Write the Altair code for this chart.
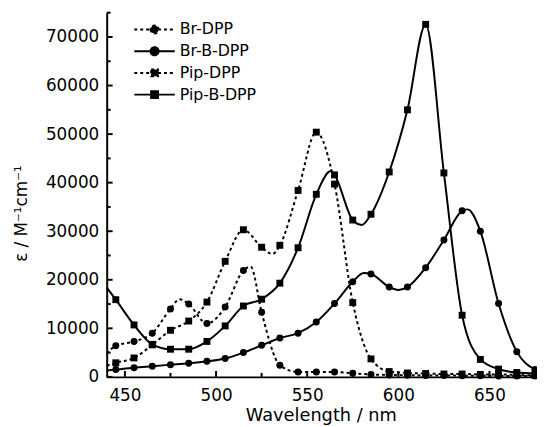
import altair as alt
import pandas as pd

series_names = ["Br-DPP", "Br-B-DPP", "Pip-DPP", "Pip-B-DPP"]
dotted_series = ["Br-DPP", "Pip-DPP"]
circle_series = ["Br-DPP", "Br-B-DPP"]

br_dpp_wl = [440, 445, 455, 465, 475, 480, 485, 495, 505, 515, 519, 525, 535, 545, 555, 565, 575,
             585, 595, 605, 615, 625, 635, 645, 655, 665, 675]
br_dpp_eps = [4800, 6400, 7300, 9000, 14000, 16000, 15000, 11000, 14400, 21900, 22700, 13300, 2400,
              1000, 1000, 1000, 750, 500, 400, 350, 300, 300, 250, 250, 200, 200, 200]

br_b_dpp_wl = [440, 445, 455, 465, 475, 485, 495, 505, 515, 525, 535, 545, 555, 565, 575, 581, 585,
               595, 600, 605, 615, 625, 635, 638, 645, 655, 665, 675]
br_b_dpp_eps = [1300, 1500, 1900, 2200, 2500, 2800, 3200, 3800, 5000, 6500, 8000, 9000, 11300, 15100,
                19600, 21400, 21200, 18500, 17900, 18500, 22500, 28200, 34200, 34500, 30000, 15100,
                5200, 1500]

pip_dpp_wl = [440, 445, 455, 465, 475, 485, 495, 505, 515, 525, 531, 535, 545, 555, 565, 575, 585,
              595, 605, 615, 625, 635, 645, 655, 665, 675]
pip_dpp_eps = [2300, 2900, 3900, 6600, 9600, 11500, 15400, 23800, 30300, 26700, 25300, 27100, 38400,
               50400, 39700, 15300, 3700, 1100, 800, 700, 600, 600, 500, 500, 400, 300]

pip_b_dpp_wl = [440, 445, 455, 465, 475, 485, 495, 505, 515, 525, 535, 545, 555, 563, 565, 575, 580,
                585, 595, 605, 615, 625, 635, 645, 655, 665, 675]
pip_b_dpp_eps = [18400, 15900, 10700, 6700, 5700, 5700, 7300, 10500, 14600, 16000, 19300, 26600,
                 37600, 42400, 41600, 32300, 31300, 33500, 42200, 55000, 72600, 42000, 12700, 3600,
                 1600, 900, 700]

x_ticks_major = [450, 500, 550, 600, 650]
x_ticks_minor = [475, 525, 575, 625, 675]
y_ticks_major = [0, 10000, 20000, 30000, 40000, 50000, 60000, 70000]
y_ticks_minor = [5000, 15000, 25000, 35000, 45000, 55000, 65000, 75000]

rows = []
for name, wls, vals in [("Br-DPP", br_dpp_wl, br_dpp_eps), ("Br-B-DPP", br_b_dpp_wl, br_b_dpp_eps),
                        ("Pip-DPP", pip_dpp_wl, pip_dpp_eps), ("Pip-B-DPP", pip_b_dpp_wl, pip_b_dpp_eps)]:
    for w, v in zip(wls, vals):
        rows.append({"series": name, "wl": w, "eps": v, "marker": (w % 10 == 5),
                     "dotted": name in dotted_series, "circle": name in circle_series})
df = pd.DataFrame(rows)

xscale = alt.Scale(domain=[440, 675], nice=False, zero=False)
yscale = alt.Scale(domain=[0, 75000], nice=False, zero=True)

x_enc = alt.X("wl:Q", scale=xscale,
              axis=alt.Axis(values=x_ticks_major, format="d", title="Wavelength / nm",
                            labelPadding=11, titleY=30, titleBaseline="top", titleFontSize=18))
y_enc = alt.Y("eps:Q", scale=yscale,
              axis=alt.Axis(values=y_ticks_major, format="d", title="ε  / M⁻¹cm⁻¹",
                            labelPadding=8, titleX=-86, titleY=203, titleAngle=270,
                            titleBaseline="middle", titleAlign="center"))

base = alt.Chart(df)

dotted_lines = base.transform_filter(alt.datum.dotted).mark_line(
    color="black", strokeWidth=2, strokeDash=[3, 3], interpolate="monotone"
).encode(x=x_enc, y=y_enc, detail="series:N")

solid_lines = base.transform_filter(~alt.datum.dotted).mark_line(
    color="black", strokeWidth=2, interpolate="monotone"
).encode(x=x_enc, y=y_enc, detail="series:N")

circles = base.transform_filter(alt.datum.marker & alt.datum.circle).mark_point(
    shape="circle", filled=True, color="black", size=50, opacity=1
).encode(x=x_enc, y=y_enc)

squares = base.transform_filter(alt.datum.marker & ~alt.datum.circle).mark_point(
    shape="square", filled=True, color="black", size=49, opacity=1
).encode(x=x_enc, y=y_enc)

legend_paths = [
    "M-1,0H1M-0.2,0A0.2,0.2,0,1,0,0.2,0A0.2,0.2,0,1,0,-0.2,0Z",
    "M-1,0H1M-0.2,0A0.2,0.2,0,1,0,0.2,0A0.2,0.2,0,1,0,-0.2,0Z",
    "M-1,0H1M-0.17,-0.17H0.17V0.17H-0.17Z",
    "M-1,0H1M-0.17,-0.17H0.17V0.17H-0.17Z",
]
legend_dash = [[3, 3], [1, 0], [3, 3], [1, 0]]

leg = alt.Legend(title=None, orient="none", legendX=27, legendY=6, symbolSize=1681,
                 clipHeight=22, labelFont="DejaVu Sans", labelFontSize=16, labelOffset=4,
                 labelColor="black", padding=0, rowPadding=0, symbolStrokeWidth=2,
                 symbolOpacity=1)

legend_layer = base.transform_filter("false").mark_point(
    filled=False, fill="black", stroke="black", strokeWidth=2, opacity=1, fillOpacity=1
).encode(
    x=x_enc, y=y_enc,
    shape=alt.Shape("series:N", scale=alt.Scale(domain=series_names, range=legend_paths), legend=leg),
    strokeDash=alt.StrokeDash("series:N", scale=alt.Scale(domain=series_names, range=legend_dash), legend=leg),
)

xt_major = alt.Chart(pd.DataFrame({"wl": x_ticks_major})).mark_rule(color="black", strokeWidth=2).encode(
    x=x_enc, y=alt.value(369), y2=alt.value(363))
xt_minor = alt.Chart(pd.DataFrame({"wl": x_ticks_minor})).mark_rule(color="black", strokeWidth=2).encode(
    x=x_enc, y=alt.value(369), y2=alt.value(365))
yt_major = alt.Chart(pd.DataFrame({"eps": y_ticks_major})).mark_rule(color="black", strokeWidth=2).encode(
    y=y_enc, x=alt.value(0), x2=alt.value(6))
yt_minor = alt.Chart(pd.DataFrame({"eps": y_ticks_minor})).mark_rule(color="black", strokeWidth=2).encode(
    y=y_enc, x=alt.value(0), x2=alt.value(4))

chart = alt.layer(
    dotted_lines, solid_lines, circles, squares, legend_layer,
    xt_major, xt_minor, yt_major, yt_minor
).properties(
    width=434, height=369,
    padding={"left": 100, "top": 2, "right": 2, "bottom": 48},
    autosize=alt.AutoSizeParams(type="none"),
).configure_view(stroke=None).configure_axis(
    labelFont="DejaVu Sans", labelFontSize=17, labelColor="black",
    titleFont="DejaVu Sans", titleFontSize=17, titleFontWeight="normal", titleColor="black",
    domainColor="black", domainWidth=2, ticks=False, grid=False,
)

chart.save("out.html", embed_options={"renderer": "svg", "actions": False})
